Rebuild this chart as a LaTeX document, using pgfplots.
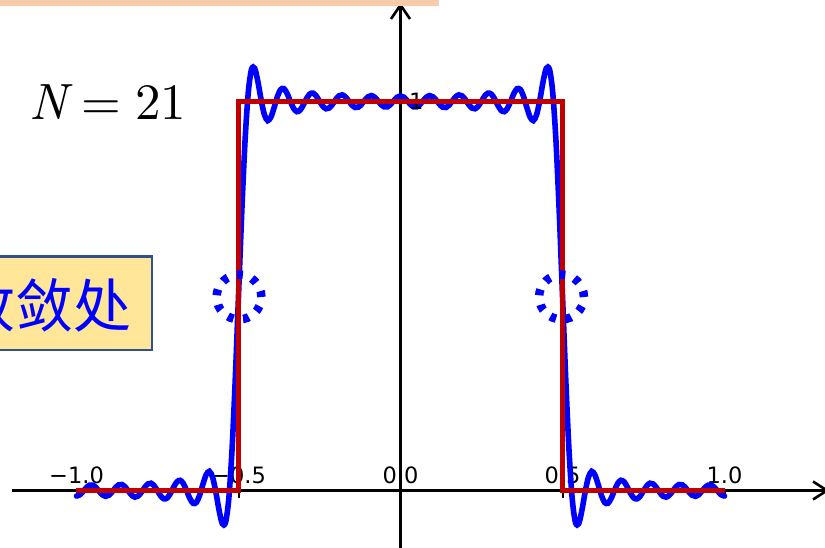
\documentclass[border=0pt]{standalone}
\usepackage[no-math]{fontspec}
\usepackage{pgfplots}
\usepackage{pgfplotstable}
\pgfplotsset{compat=1.18}
\newfontfamily\dejavu{DejaVu Sans}
\newfontfamily\cjk{Noto Sans CJK SC}
\newfontface\lmit{lmroman10-italic.otf}
\newfontface\lmup{lmroman10-regular.otf}
\definecolor{sigblue}{RGB}{0,0,255}
\definecolor{rectred}{RGB}{192,0,0}
\definecolor{peach}{RGB}{248,203,173}
\definecolor{boxfill}{RGB}{255,230,153}
\definecolor{boxedge}{RGB}{47,82,143}
\newcommand{\mminus}{\char"2212\relax}
\tikzset{ticklabel/.style={anchor=base, inner sep=0pt,
    font=\dejavu\fontsize{22.5bp}{27bp}\selectfont}}

% Partial Fourier sum (harmonics up to 21) of the unit pulse on [-0.5,0.5]
\pgfplotstableread{
x y
-1.00 -0.0144
-0.99 -0.0111
-0.98 -0.0027
-0.97 0.0070
-0.96 0.0136
-0.95 0.0139
-0.94 0.0078
-0.93 -0.0020
-0.92 -0.0110
-0.91 -0.0150
-0.90 -0.0121
-0.89 -0.0036
-0.88 0.0069
-0.87 0.0144
-0.86 0.0154
-0.85 0.0092
-0.84 -0.0014
-0.83 -0.0118
-0.82 -0.0170
-0.81 -0.0144
-0.80 -0.0050
-0.79 0.0073
-0.78 0.0167
-0.77 0.0187
-0.76 0.0119
-0.75 -0.0009
-0.74 -0.0142
-0.73 -0.0215
-0.72 -0.0191
-0.71 -0.0074
-0.70 0.0089
-0.69 0.0224
-0.68 0.0262
-0.67 0.0177
-0.66 -0.0005
-0.65 -0.0206
-0.64 -0.0330
-0.63 -0.0307
-0.62 -0.0124
-0.61 0.0155
-0.60 0.0401
-0.59 0.0492
-0.58 0.0342
-0.57 -0.0034
-0.56 -0.0506
-0.55 -0.0852
-0.54 -0.0821
-0.53 -0.0215
-0.52 0.1040
-0.51 0.2857
-0.50 0.5000
-0.49 0.7143
-0.48 0.8960
-0.47 1.0215
-0.46 1.0821
-0.45 1.0852
-0.44 1.0506
-0.43 1.0034
-0.42 0.9658
-0.41 0.9508
-0.40 0.9599
-0.39 0.9845
-0.38 1.0124
-0.37 1.0307
-0.36 1.0330
-0.35 1.0206
-0.34 1.0005
-0.33 0.9823
-0.32 0.9738
-0.31 0.9776
-0.30 0.9911
-0.29 1.0074
-0.28 1.0191
-0.27 1.0215
-0.26 1.0142
-0.25 1.0009
-0.24 0.9881
-0.23 0.9813
-0.22 0.9833
-0.21 0.9927
-0.20 1.0050
-0.19 1.0144
-0.18 1.0170
-0.17 1.0118
-0.16 1.0014
-0.15 0.9908
-0.14 0.9846
-0.13 0.9856
-0.12 0.9931
-0.11 1.0036
-0.10 1.0121
-0.09 1.0150
-0.08 1.0110
-0.07 1.0020
-0.06 0.9922
-0.05 0.9861
-0.04 0.9864
-0.03 0.9930
-0.02 1.0027
-0.01 1.0111
0.00 1.0144
0.01 1.0111
0.02 1.0027
0.03 0.9930
0.04 0.9864
0.05 0.9861
0.06 0.9922
0.07 1.0020
0.08 1.0110
0.09 1.0150
0.10 1.0121
0.11 1.0036
0.12 0.9931
0.13 0.9856
0.14 0.9846
0.15 0.9908
0.16 1.0014
0.17 1.0118
0.18 1.0170
0.19 1.0144
0.20 1.0050
0.21 0.9927
0.22 0.9833
0.23 0.9813
0.24 0.9881
0.25 1.0009
0.26 1.0142
0.27 1.0215
0.28 1.0191
0.29 1.0074
0.30 0.9911
0.31 0.9776
0.32 0.9738
0.33 0.9823
0.34 1.0005
0.35 1.0206
0.36 1.0330
0.37 1.0307
0.38 1.0124
0.39 0.9845
0.40 0.9599
0.41 0.9508
0.42 0.9658
0.43 1.0034
0.44 1.0506
0.45 1.0852
0.46 1.0821
0.47 1.0215
0.48 0.8960
0.49 0.7143
0.50 0.5000
0.51 0.2857
0.52 0.1040
0.53 -0.0215
0.54 -0.0821
0.55 -0.0852
0.56 -0.0506
0.57 -0.0034
0.58 0.0342
0.59 0.0492
0.60 0.0401
0.61 0.0155
0.62 -0.0124
0.63 -0.0307
0.64 -0.0330
0.65 -0.0206
0.66 -0.0005
0.67 0.0177
0.68 0.0262
0.69 0.0224
0.70 0.0089
0.71 -0.0074
0.72 -0.0191
0.73 -0.0215
0.74 -0.0142
0.75 -0.0009
0.76 0.0119
0.77 0.0187
0.78 0.0167
0.79 0.0073
0.80 -0.0050
0.81 -0.0144
0.82 -0.0170
0.83 -0.0118
0.84 -0.0014
0.85 0.0092
0.86 0.0154
0.87 0.0144
0.88 0.0069
0.89 -0.0036
0.90 -0.0121
0.91 -0.0150
0.92 -0.0110
0.93 -0.0020
0.94 0.0078
0.95 0.0139
0.96 0.0136
0.97 0.0070
0.98 -0.0027
0.99 -0.0111
1.00 -0.0144
}\partialsum

% The ideal pulse
\pgfplotstableread{
x y
-1.0 0
-0.5 0
-0.5 1
0.5 1
0.5 0
1.0 0
}\pulse

\begin{document}
\begin{tikzpicture}[x=1bp, y=1bp]
\path[use as bounding box] (0,0) rectangle (825,548);
\clip (0,0) rectangle (825,548);
% coordinate axes (data origin at (400.5, 57.5)), open arrow heads
\draw[line width=2.6bp] (12,57.5) -- (827,57.5);
\draw[line width=2.6bp, line join=miter] (813,66.5) -- (827,57.5) -- (813,48.5);
\draw[line width=2.6bp] (400.5,0) -- (400.5,543);
\draw[line width=2.6bp, line join=miter] (391,529) -- (400.5,543) -- (410,529);
% ticks at -1, -0.5, 0.5, 1
\foreach \px in {76.5,238.5,562.5,724.5}{
  \draw[line width=2bp] (\px,57.5) -- (\px,49.5);
}
% tick labels
\node[ticklabel] at (76.5,64.7) {\mminus1.0};
\node[ticklabel] at (238.5,64.7) {\mminus0.5};
\node[ticklabel] at (400.5,64.7) {0.0};
\node[ticklabel] at (562.5,64.7) {0.5};
\node[ticklabel] at (724.5,64.7) {1.0};

\begin{axis}[
  at={(0,0)}, anchor=south west,
  scale only axis, width=825bp, height=548bp,
  xmin=-1.2361, xmax=1.3102, ymin=-0.1478, ymax=1.2609,
  axis lines=none, clip=false,
]
\addplot[draw=sigblue, line width=5.6bp, smooth, line cap=round] table[x=x, y=y] {\partialsum};
\node[ticklabel] at (axis cs:0.0485,0.980) {1};
\addplot[draw=rectred, line width=4.6bp] table[x=x, y=y] {\pulse};
\end{axis}

% convergence points at the two jumps
\draw[sigblue, line width=8.5bp, dash pattern=on 6bp off 9.64bp]
  (239,251) circle[radius=22.4];
\draw[sigblue, line width=8.5bp, dash pattern=on 6bp off 9.64bp]
  (561.5,251) circle[radius=22.4];

% annotations
\filldraw[fill=boxfill, draw=boxedge, line width=2.4bp]
  (-80,198) rectangle (151.7,291.3);
\node[anchor=base east, inner sep=0pt, text=sigblue,
  font=\cjk\fontsize{58bp}{64bp}\selectfont] at (132,220.5) {收敛处};
\node[anchor=base west, inner sep=0pt,
  font=\fontsize{51bp}{60bp}\selectfont] at (29,428.7)
  {{\lmit N}\hspace{0.28em}{\lmup =}\hspace{0.28em}{\lmup 21}};
\fill[peach] (0,542.3) rectangle (438.5,548);
\end{tikzpicture}
\end{document}
